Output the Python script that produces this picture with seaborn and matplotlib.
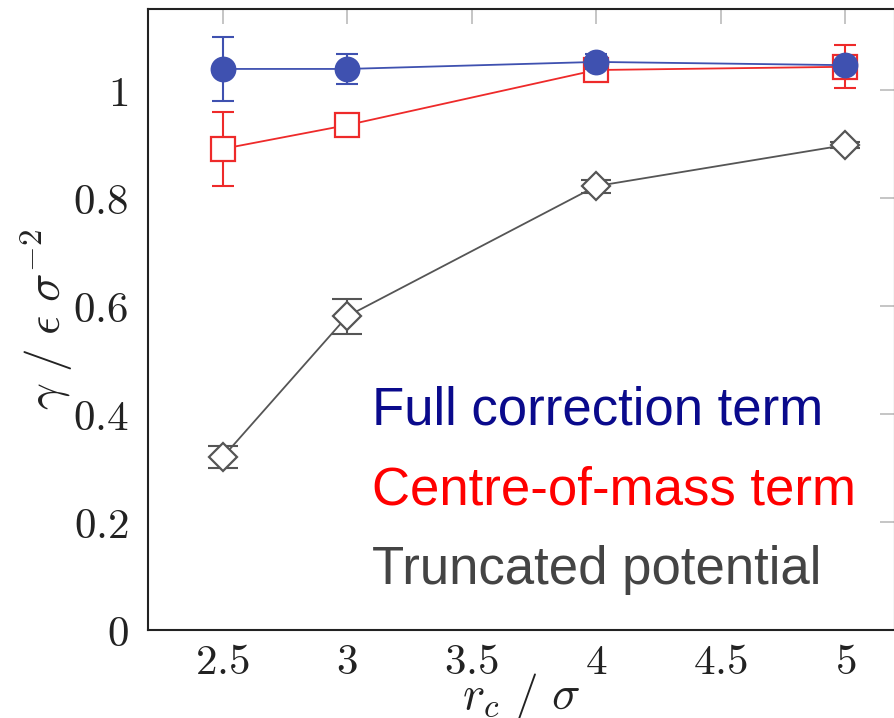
import matplotlib
matplotlib.use("Agg")
import matplotlib.pyplot as plt
import seaborn as sns
import pandas as pd

rc = [2.5, 3, 4, 5]
full_corr = [1.039, 1.039, 1.052, 1.046]
full_err = [0.060, 0.027, 0.014, 0.010]
com_term = [0.891, 0.935, 1.037, 1.043]
com_err = [0.068, 0.008, 0.008, 0.040]
trunc = [0.320, 0.581, 0.822, 0.898]
trunc_err = [0.020, 0.032, 0.012, 0.006]

labels = ["Full correction term", "Centre-of-mass term", "Truncated potential"]
xticks = [2.5, 3, 3.5, 4, 4.5, 5]
yticks = [0, 0.2, 0.4, 0.6, 0.8, 1]

sns.set_style("white")
plt.rcParams["mathtext.fontset"] = "cm"
plt.rcParams["font.family"] = ["Liberation Sans", "DejaVu Sans"]

fig = plt.figure(figsize=(8.94, 7.18), dpi=100)
ax = fig.add_axes([148/894, 88/718, (895-148)/894, (630-9)/718])

series = [
    (trunc, trunc_err, "#555555", "D", "white", 11, 1),
    (com_term, com_err, "#ee2a2a", "s", "white", 8, 2),
    (full_corr, full_err, "#3f51b0", "o", "#3f51b0", 8, 3),
]
for vals, errs, col, mk, fc, cap, z in series:
    df = pd.DataFrame({"x": rc, "y": vals})
    ax.errorbar(rc, vals, yerr=errs, fmt="none", ecolor=col, elinewidth=1.5,
                capsize=cap, capthick=1.5, zorder=z)
    sns.lineplot(data=df, x="x", y="y", ax=ax, color=col, lw=1.3,
                 marker=mk, markersize=17 if mk != "D" else 14,
                 markerfacecolor=fc, markeredgecolor=col, markeredgewidth=1.6,
                 zorder=z + 0.5)

ax.set_xlim(2.2, 5.2)
ax.set_ylim(0, 1.15)
ax.set_xticks(xticks)
ax.set_yticks(yticks)
ax.set_xticklabels([f"${t:g}$" for t in xticks])
ax.set_yticklabels([f"${t:g}$" for t in yticks])
ax.tick_params(direction="in", length=11, width=1.2, color="#bbbbbb",
               top=True, right=True, labelsize=31, labelcolor="#222222")
ax.tick_params(axis="x", pad=9)
ax.tick_params(axis="y", pad=14)
for s in ax.spines.values():
    s.set_color("#222222")
    s.set_linewidth(1.5)

ax.set_xlabel(r"$r_c\ /\ \sigma$", fontsize=34, color="#222222", va="center")
ax.set_ylabel(r"$\gamma\ /\ \epsilon\ \sigma^{-2}$", fontsize=34,
              color="#222222", va="center")
ax.xaxis.set_label_coords(0.5, -0.108)
ax.yaxis.set_label_coords(-0.135, 0.5)

ax.text(3.1, 0.406, labels[0], color="#0a0a8c", fontsize=38, va="center", ha="left")
ax.text(3.1, 0.258, labels[1], color="#ff0000", fontsize=38, va="center", ha="left")
ax.text(3.1, 0.112, labels[2], color="#444444", fontsize=38, va="center", ha="left")

fig.savefig("out.png", dpi=100)
